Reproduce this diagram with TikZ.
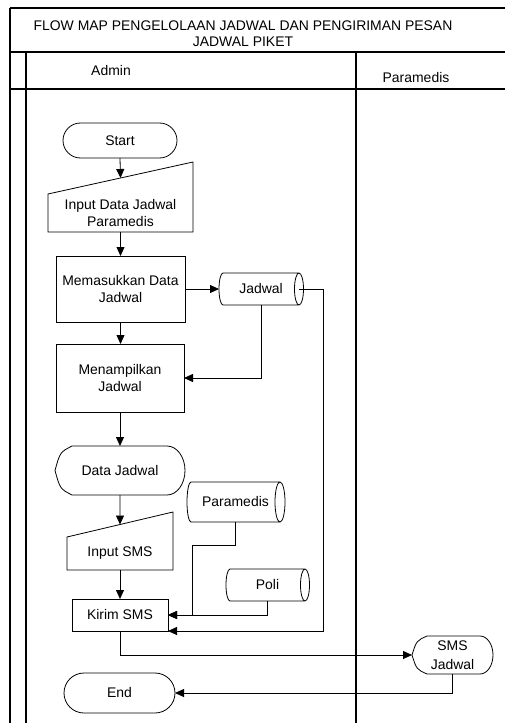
\documentclass[tikz,border=0pt]{standalone}
\usepackage{fontspec}
\setmainfont{Liberation Sans}
\usetikzlibrary{arrows.meta,calc}

% stored-data outline: top and bottom edges, full ellipse on the right, half ellipse on the left
\newcommand{\dbshape}[3]{%
  \draw[shapeline] (#1.north west) -- (#1.north east) (#1.south west) -- (#1.south east)
    (#1.east) ellipse [x radius=#2, y radius=#3]
    (#1.north west) arc [start angle=90, end angle=270, x radius=4, y radius=#3];}

% display outline: pointed left side, round right side
\newcommand{\dispshape}[4]{%
  \draw[shapeline] ($(#1.north west)+(#2,0)$) -- ($(#1.north east)+(-#3,0)$)
    arc [start angle=90, end angle=-90, x radius=#3, y radius=#4]
    -- ($(#1.south west)+(#2,0)$)
    .. controls ($(#1.west)+(0.3*#2,-0.75*#4)$) .. (#1.west)
    .. controls ($(#1.west)+(0.3*#2,0.75*#4)$) .. ($(#1.north west)+(#2,0)$) -- cycle;}

% manual-input outline: the top edge rises to the right
\newcommand{\inshape}[2]{%
  \draw[shapeline] (#1.south west) -- (#1.south east) -- ($(#1.north east)+(0,#2)$)
    -- (#1.north west) -- cycle;}

\begin{document}
\begin{tikzpicture}[x=1bp,y=1bp,
  font=\fontsize{14}{16.5}\selectfont,
  frame/.style={line width=2bp},
  shapeline/.style={line width=0.8bp},
  plain/.style={rectangle, inner sep=0pt, outer sep=0pt, align=center},
  box/.style={plain, draw, line width=0.8bp},
  terminal/.style={box, rounded corners=#1},
  flow/.style={line width=0.8bp, -{Triangle[length=9bp,width=8bp]}},
]
\useasboundingbox (0,0) rectangle (505,-723);

% swimlane frame
\draw[frame] (10,-8) -- (505,-8);
\draw[frame] (10,-52) -- (505,-52);
\draw[frame] (10,-89) -- (505,-89);
\draw[frame] (10,-8) -- (10,-723);
\draw[frame] (25.7,-52) -- (25.7,-723);
\draw[frame] (355.7,-52) -- (355.7,-723);

\node[plain, anchor=base] (title1) at (243,-30.7) {FLOW MAP PENGELOLAAN JADWAL DAN PENGIRIMAN PESAN};
\node[plain, anchor=base] (title2) at (243,-46.7) {JADWAL PIKET};
\node[plain, anchor=base] (laneadmin) at (111,-76) {Admin};
\node[plain, anchor=base] (laneparamedis) at (416,-83) {Paramedis};

% process steps
\node[terminal=17.5bp, minimum width=114bp, minimum height=35bp] (start) at (120,-140.5) {Start};

\node[plain, minimum width=145bp, minimum height=38bp] (inpdata) at (120.5,-213) {Input Data Jadwal\\Paramedis};
\inshape{inpdata}{32}
\coordinate (inpdatatop) at ($(inpdata.north west)!0.5!(inpdata.north east)+(0,16)$);

\node[box, minimum width=129bp, minimum height=66bp] (masuk) at (120.5,-289) {Memasukkan Data\\Jadwal};
\node[box, minimum width=128bp, minimum height=68bp] (tampil) at (120,-378) {Menampilkan\\Jadwal};

\node[plain, minimum width=130bp, minimum height=49bp] (dj) at (120,-470.5) {Data Jadwal};
\dispshape{dj}{17}{18}{24.5}

\node[plain, minimum width=106bp, minimum height=33bp] (inpsms) at (120,-553.5) {Input SMS};
\inshape{inpsms}{25}
\coordinate (inpsmstop) at ($(inpsms.north west)!0.5!(inpsms.north east)+(0,12.5)$);

\node[box, minimum width=96bp, minimum height=32bp] (kirim) at (120,-615) {Kirim SMS};
\node[terminal=20bp, minimum width=111bp, minimum height=40bp] (end) at (119.5,-693) {End};

\node[plain, minimum width=81bp, minimum height=38bp] (sms) at (452.5,-655) {SMS\\[3bp]Jadwal};
\dispshape{sms}{15}{13}{19}

% data stores
\node[plain, minimum width=76bp, minimum height=32bp] (jadwal) at (261,-289) {Jadwal};
\dbshape{jadwal}{4.5}{16}
\node[plain, minimum width=89bp, minimum height=40bp] (dbpar) at (235.5,-502) {Paramedis};
\dbshape{dbpar}{5}{20}
\node[plain, minimum width=75bp, minimum height=32bp] (poli) at (267.5,-585) {Poli};
\dbshape{poli}{4.5}{16}

\coordinate (jadwalin) at ($(jadwal.west)+(-4,0)$);
\coordinate (parbend) at (192,-545);
\coordinate (jadright) at (323,-289);

% connectors
\draw[flow] (start.south) -- (inpdatatop);
\draw[flow] (inpdata.south) -- (masuk.north);
\draw[flow] (masuk.south) -- (masuk.south |- tampil.north);
\draw[flow] (masuk.east) -- (jadwalin);
\draw[flow] (jadwal.south) |- (tampil.east);
\draw[flow] (tampil.south) -- (dj.north);
\draw[flow] (dj.south) -- (inpsmstop);
\draw[flow] (inpsms.south) -- (kirim.north);
\draw[flow] (dbpar.south) |- (parbend) |- (kirim.east);
\draw[flow] (poli.south) |- (kirim.east);
\draw[flow] (jadwal.east) -- (jadright) |- (kirim.south east);
\draw[flow] (kirim.south) |- (sms.west);
\draw[flow] (sms.south) |- (end.east);
\end{tikzpicture}
\end{document}
